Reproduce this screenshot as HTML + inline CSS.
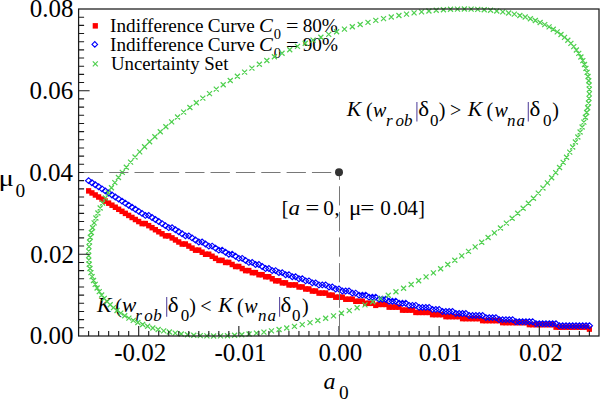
<!DOCTYPE html><html><head><meta charset="utf-8"><style>html,body{margin:0;padding:0;background:#fff;width:600px;height:400px;overflow:hidden}svg{display:block}text{font-family:"Liberation Serif",serif;fill:#000}</style></head><body>
<svg width="600" height="400" viewBox="0 0 600 400">
<text x="29.70" y="17.40" font-size="25">0.08</text>
<text x="29.49" y="99.15" font-size="25">0.06</text>
<text x="29.14" y="180.90" font-size="25">0.04</text>
<text x="30.13" y="262.65" font-size="25">0.02</text>
<text x="29.70" y="344.40" font-size="25">0.00</text>
<text x="114.19" y="360.60" font-size="25">-0.02</text>
<text x="214.40" y="360.60" font-size="25">-0.01</text>
<text x="318.43" y="360.60" font-size="25">0.00</text>
<text x="418.85" y="360.60" font-size="25">0.01</text>
<text x="518.94" y="360.60" font-size="25">0.02</text>
<text x="-1.15" y="186.30" font-size="24" transform="matrix(1.2000 0 0 1 -0.160 0)">μ</text>
<text x="15.51" y="197.30" font-size="19.4">0</text>
<text x="323.49" y="389.20" font-size="24" font-style="italic">a</text>
<text x="338.96" y="398.50" font-size="19.4">0</text>
<rect x="92.7" y="23.1" width="5.2" height="5.5" fill="#ff0000"/>
<path fill="none" stroke="#0000ff" stroke-width="1.1" d="M92 44.4L94.8 41.6L97.6 44.4L94.8 47.2Z"/>
<path fill="none" stroke="#50d050" stroke-width="1.2" d="M92.80 61.30L97.80 66.30M92.80 66.30L97.80 61.30"/>
<text x="110.11" y="31.60" font-size="19.2">Indifference</text>
<text x="207.81" y="31.60" font-size="19.2">Curve</text>
<text x="259.13" y="31.60" font-size="19.2" font-style="italic" transform="matrix(1.0800 0 0 1 -20.816 0)">C</text>
<text x="273.75" y="39.00" font-size="14.5">0</text>
<text x="286.24" y="31.60" font-size="19.2" transform="matrix(1.1500 0 0 1 -43.080 0)">=</text>
<text x="302.67" y="31.60" font-size="19.2">80%</text>
<text x="110.11" y="51.00" font-size="19.2">Indifference</text>
<text x="207.81" y="51.00" font-size="19.2">Curve</text>
<text x="259.13" y="51.00" font-size="19.2" font-style="italic" transform="matrix(1.0800 0 0 1 -20.816 0)">C</text>
<text x="273.75" y="58.40" font-size="14.5">0</text>
<text x="286.24" y="51.00" font-size="19.2" transform="matrix(1.1500 0 0 1 -43.080 0)">=</text>
<text x="302.78" y="51.00" font-size="19.2">90%</text>
<text x="110.90" y="70.20" font-size="19.2" transform="matrix(0.9795 0 0 1 2.280 0)">Uncertainty Set</text>
<text x="346.73" y="116.50" font-size="20" font-style="italic" transform="matrix(1.0800 0 0 1 -27.720 0)">K</text>
<text x="366.12" y="116.50" font-size="20">(</text>
<text x="373.02" y="116.50" font-size="20" font-style="italic">w</text>
<text x="386.01" y="125.80" font-size="17" font-style="italic">r</text>
<text x="395.49" y="125.80" font-size="17" font-style="italic">o</text>
<text x="404.07" y="125.80" font-size="17" font-style="italic">b</text>
<text x="418.25" y="116.50" font-size="20" transform="matrix(1.1500 0 0 1 -62.850 0)">δ</text>
<text x="429.95" y="125.80" font-size="17">0</text>
<text x="438.86" y="116.50" font-size="20">)</text>
<text x="449.98" y="116.50" font-size="20">&gt;</text>
<text x="467.73" y="116.50" font-size="20" font-style="italic" transform="matrix(1.0800 0 0 1 -37.400 0)">K</text>
<text x="486.52" y="116.50" font-size="20">(</text>
<text x="494.52" y="116.50" font-size="20" font-style="italic">w</text>
<text x="507.09" y="125.80" font-size="17" font-style="italic">n</text>
<text x="516.49" y="125.80" font-size="17" font-style="italic">a</text>
<text x="529.55" y="116.50" font-size="20" transform="matrix(1.1500 0 0 1 -79.545 0)">δ</text>
<text x="543.05" y="125.80" font-size="17">0</text>
<text x="552.36" y="116.50" font-size="20">)</text>
<path d="M416.9 102.0V121.5" stroke="#5a4aa0" stroke-width="1.1"/>
<path d="M528.3 102.0V121.5" stroke="#5a4aa0" stroke-width="1.1"/>
<text x="96.93" y="312.50" font-size="20" font-style="italic" transform="matrix(1.0800 0 0 1 -7.736 0)">K</text>
<text x="115.32" y="312.50" font-size="20">(</text>
<text x="122.02" y="312.50" font-size="20" font-style="italic" transform="matrix(1.0700 0 0 1 -8.575 0)">w</text>
<text x="135.31" y="321.20" font-size="17" font-style="italic">r</text>
<text x="144.19" y="321.20" font-size="17" font-style="italic">o</text>
<text x="153.37" y="321.20" font-size="17" font-style="italic">b</text>
<text x="167.95" y="312.50" font-size="20" transform="matrix(1.1500 0 0 1 -25.305 0)">δ</text>
<text x="180.65" y="321.20" font-size="17">0</text>
<text x="189.36" y="312.50" font-size="20">)</text>
<text x="200.30" y="312.50" font-size="20">&lt;</text>
<text x="218.23" y="312.50" font-size="20" font-style="italic" transform="matrix(1.0800 0 0 1 -17.440 0)">K</text>
<text x="237.12" y="312.50" font-size="20">(</text>
<text x="244.22" y="312.50" font-size="20" font-style="italic">w</text>
<text x="258.09" y="321.20" font-size="17" font-style="italic">n</text>
<text x="267.49" y="321.20" font-size="17" font-style="italic">a</text>
<text x="280.55" y="312.50" font-size="20" transform="matrix(1.1500 0 0 1 -42.195 0)">δ</text>
<text x="292.05" y="321.20" font-size="17">0</text>
<text x="302.06" y="312.50" font-size="20">)</text>
<path d="M166.7 297.0V316.8" stroke="#5a4aa0" stroke-width="1.1"/>
<path d="M279.6 297.0V316.8" stroke="#5a4aa0" stroke-width="1.1"/>
<text x="281.77" y="214.80" font-size="20">[</text>
<text x="288.60" y="214.80" font-size="20" font-style="italic" transform="matrix(1.1500 0 0 1 -43.380 0)">a</text>
<text x="305.80" y="214.80" font-size="20" transform="matrix(1.2200 0 0 1 -67.496 0)">=</text>
<text x="323.34" y="214.80" font-size="20" transform="matrix(1.0600 0 0 1 -19.446 0)">0</text>
<text x="334.44" y="214.80" font-size="20">,</text>
<text x="349.38" y="214.80" font-size="20" transform="matrix(1.1500 0 0 1 -52.650 0)">μ</text>
<text x="360.50" y="214.80" font-size="20" transform="matrix(1.2500 0 0 1 -90.375 0)">=</text>
<text x="380.24" y="214.80" font-size="20" transform="matrix(1.0600 0 0 1 -22.860 0)">0</text>
<text x="392.38" y="214.80" font-size="20">.</text>
<text x="397.54" y="214.80" font-size="20" transform="matrix(1.0600 0 0 1 -23.898 0)">0</text>
<text x="407.31" y="214.80" font-size="20" transform="matrix(1.0600 0 0 1 -24.462 0)">4</text>
<text x="418.28" y="214.80" font-size="20">]</text>
<g>
<g fill="#ff0000"><rect x="86.03" y="188.14" width="5.2" height="5.5"/><rect x="89.36" y="190.19" width="5.2" height="5.5"/><rect x="92.70" y="192.23" width="5.2" height="5.5"/><rect x="96.04" y="194.27" width="5.2" height="5.5"/><rect x="99.38" y="196.32" width="5.2" height="5.5"/><rect x="102.72" y="198.36" width="5.2" height="5.5"/><rect x="106.06" y="200.41" width="5.2" height="5.5"/><rect x="109.39" y="202.45" width="5.2" height="5.5"/><rect x="112.73" y="204.49" width="5.2" height="5.5"/><rect x="116.07" y="206.54" width="5.2" height="5.5"/><rect x="119.41" y="208.58" width="5.2" height="5.5"/><rect x="122.75" y="210.62" width="5.2" height="5.5"/><rect x="126.08" y="212.67" width="5.2" height="5.5"/><rect x="129.42" y="214.71" width="5.2" height="5.5"/><rect x="132.76" y="216.76" width="5.2" height="5.5"/><rect x="136.10" y="218.80" width="5.2" height="5.5"/><rect x="139.44" y="220.84" width="5.2" height="5.5"/><rect x="142.78" y="220.84" width="5.2" height="5.5"/><rect x="146.12" y="222.89" width="5.2" height="5.5"/><rect x="149.45" y="224.93" width="5.2" height="5.5"/><rect x="152.79" y="226.97" width="5.2" height="5.5"/><rect x="156.13" y="229.02" width="5.2" height="5.5"/><rect x="159.47" y="231.06" width="5.2" height="5.5"/><rect x="162.81" y="233.11" width="5.2" height="5.5"/><rect x="166.14" y="233.11" width="5.2" height="5.5"/><rect x="169.48" y="235.15" width="5.2" height="5.5"/><rect x="172.82" y="237.19" width="5.2" height="5.5"/><rect x="176.16" y="239.24" width="5.2" height="5.5"/><rect x="179.50" y="241.28" width="5.2" height="5.5"/><rect x="182.84" y="241.28" width="5.2" height="5.5"/><rect x="186.18" y="243.32" width="5.2" height="5.5"/><rect x="189.51" y="245.37" width="5.2" height="5.5"/><rect x="192.85" y="247.41" width="5.2" height="5.5"/><rect x="196.19" y="247.41" width="5.2" height="5.5"/><rect x="199.53" y="249.46" width="5.2" height="5.5"/><rect x="202.87" y="251.50" width="5.2" height="5.5"/><rect x="206.21" y="251.50" width="5.2" height="5.5"/><rect x="209.54" y="253.54" width="5.2" height="5.5"/><rect x="212.88" y="255.59" width="5.2" height="5.5"/><rect x="216.22" y="257.63" width="5.2" height="5.5"/><rect x="219.56" y="257.63" width="5.2" height="5.5"/><rect x="222.90" y="259.68" width="5.2" height="5.5"/><rect x="226.24" y="259.68" width="5.2" height="5.5"/><rect x="229.57" y="261.72" width="5.2" height="5.5"/><rect x="232.91" y="263.76" width="5.2" height="5.5"/><rect x="236.25" y="263.76" width="5.2" height="5.5"/><rect x="239.59" y="265.81" width="5.2" height="5.5"/><rect x="242.93" y="267.85" width="5.2" height="5.5"/><rect x="246.27" y="267.85" width="5.2" height="5.5"/><rect x="249.60" y="269.89" width="5.2" height="5.5"/><rect x="252.94" y="269.89" width="5.2" height="5.5"/><rect x="256.28" y="271.94" width="5.2" height="5.5"/><rect x="259.62" y="271.94" width="5.2" height="5.5"/><rect x="262.96" y="273.98" width="5.2" height="5.5"/><rect x="266.29" y="273.98" width="5.2" height="5.5"/><rect x="269.63" y="276.02" width="5.2" height="5.5"/><rect x="272.97" y="278.07" width="5.2" height="5.5"/><rect x="276.31" y="278.07" width="5.2" height="5.5"/><rect x="279.65" y="280.11" width="5.2" height="5.5"/><rect x="282.99" y="280.11" width="5.2" height="5.5"/><rect x="286.32" y="282.16" width="5.2" height="5.5"/><rect x="289.66" y="282.16" width="5.2" height="5.5"/><rect x="293.00" y="282.16" width="5.2" height="5.5"/><rect x="296.34" y="284.20" width="5.2" height="5.5"/><rect x="299.68" y="284.20" width="5.2" height="5.5"/><rect x="303.02" y="286.24" width="5.2" height="5.5"/><rect x="306.35" y="286.24" width="5.2" height="5.5"/><rect x="309.69" y="288.29" width="5.2" height="5.5"/><rect x="313.03" y="288.29" width="5.2" height="5.5"/><rect x="316.37" y="290.33" width="5.2" height="5.5"/><rect x="319.71" y="290.33" width="5.2" height="5.5"/><rect x="323.05" y="290.33" width="5.2" height="5.5"/><rect x="326.38" y="292.38" width="5.2" height="5.5"/><rect x="329.72" y="292.38" width="5.2" height="5.5"/><rect x="333.06" y="294.42" width="5.2" height="5.5"/><rect x="336.40" y="294.42" width="5.2" height="5.5"/><rect x="339.74" y="294.42" width="5.2" height="5.5"/><rect x="343.08" y="296.46" width="5.2" height="5.5"/><rect x="346.41" y="296.46" width="5.2" height="5.5"/><rect x="349.75" y="296.46" width="5.2" height="5.5"/><rect x="353.09" y="298.51" width="5.2" height="5.5"/><rect x="356.43" y="298.51" width="5.2" height="5.5"/><rect x="359.77" y="298.51" width="5.2" height="5.5"/><rect x="363.11" y="300.55" width="5.2" height="5.5"/><rect x="366.44" y="300.55" width="5.2" height="5.5"/><rect x="369.78" y="300.55" width="5.2" height="5.5"/><rect x="373.12" y="302.59" width="5.2" height="5.5"/><rect x="376.46" y="301.65" width="5.2" height="5.5"/><rect x="379.80" y="301.65" width="5.2" height="5.5"/><rect x="383.14" y="301.65" width="5.2" height="5.5"/><rect x="386.47" y="304.35" width="5.2" height="5.5"/><rect x="389.81" y="304.35" width="5.2" height="5.5"/><rect x="393.15" y="304.35" width="5.2" height="5.5"/><rect x="396.49" y="304.35" width="5.2" height="5.5"/><rect x="399.83" y="307.35" width="5.2" height="5.5"/><rect x="403.17" y="307.35" width="5.2" height="5.5"/><rect x="406.50" y="307.35" width="5.2" height="5.5"/><rect x="409.84" y="307.35" width="5.2" height="5.5"/><rect x="413.18" y="309.65" width="5.2" height="5.5"/><rect x="416.52" y="309.65" width="5.2" height="5.5"/><rect x="419.86" y="309.65" width="5.2" height="5.5"/><rect x="423.20" y="309.65" width="5.2" height="5.5"/><rect x="426.53" y="309.65" width="5.2" height="5.5"/><rect x="429.87" y="311.85" width="5.2" height="5.5"/><rect x="433.21" y="311.85" width="5.2" height="5.5"/><rect x="436.55" y="311.85" width="5.2" height="5.5"/><rect x="439.89" y="311.85" width="5.2" height="5.5"/><rect x="443.23" y="313.85" width="5.2" height="5.5"/><rect x="446.56" y="313.85" width="5.2" height="5.5"/><rect x="449.90" y="313.85" width="5.2" height="5.5"/><rect x="453.24" y="313.85" width="5.2" height="5.5"/><rect x="456.58" y="313.85" width="5.2" height="5.5"/><rect x="459.92" y="315.85" width="5.2" height="5.5"/><rect x="463.26" y="315.85" width="5.2" height="5.5"/><rect x="466.60" y="315.85" width="5.2" height="5.5"/><rect x="469.93" y="315.85" width="5.2" height="5.5"/><rect x="473.27" y="315.85" width="5.2" height="5.5"/><rect x="476.61" y="315.85" width="5.2" height="5.5"/><rect x="479.95" y="317.85" width="5.2" height="5.5"/><rect x="483.29" y="317.85" width="5.2" height="5.5"/><rect x="486.62" y="317.85" width="5.2" height="5.5"/><rect x="489.96" y="317.85" width="5.2" height="5.5"/><rect x="493.30" y="317.85" width="5.2" height="5.5"/><rect x="496.64" y="317.85" width="5.2" height="5.5"/><rect x="499.98" y="319.85" width="5.2" height="5.5"/><rect x="503.32" y="319.85" width="5.2" height="5.5"/><rect x="506.65" y="319.85" width="5.2" height="5.5"/><rect x="509.99" y="319.85" width="5.2" height="5.5"/><rect x="513.33" y="319.85" width="5.2" height="5.5"/><rect x="516.67" y="319.85" width="5.2" height="5.5"/><rect x="520.01" y="319.85" width="5.2" height="5.5"/><rect x="523.35" y="319.85" width="5.2" height="5.5"/><rect x="526.69" y="321.85" width="5.2" height="5.5"/><rect x="530.02" y="321.85" width="5.2" height="5.5"/><rect x="533.36" y="321.85" width="5.2" height="5.5"/><rect x="536.70" y="321.85" width="5.2" height="5.5"/><rect x="540.04" y="321.85" width="5.2" height="5.5"/><rect x="543.38" y="321.85" width="5.2" height="5.5"/><rect x="546.72" y="321.85" width="5.2" height="5.5"/><rect x="550.05" y="321.85" width="5.2" height="5.5"/><rect x="553.39" y="324.35" width="5.2" height="5.5"/><rect x="556.73" y="324.35" width="5.2" height="5.5"/><rect x="560.07" y="324.35" width="5.2" height="5.5"/><rect x="563.41" y="324.35" width="5.2" height="5.5"/><rect x="566.75" y="324.35" width="5.2" height="5.5"/><rect x="570.08" y="324.35" width="5.2" height="5.5"/><rect x="573.42" y="324.35" width="5.2" height="5.5"/><rect x="576.76" y="324.35" width="5.2" height="5.5"/><rect x="580.10" y="324.35" width="5.2" height="5.5"/><rect x="583.44" y="324.35" width="5.2" height="5.5"/><rect x="586.77" y="326.35" width="5.2" height="5.5"/></g>
<g fill="none" stroke="#0000ff" stroke-width="1.15"><path d="M85.53 180.68L88.62 177.78L91.72 180.68L88.62 183.58Z"/><path d="M88.86 182.72L91.96 179.82L95.06 182.72L91.96 185.62Z"/><path d="M92.20 184.76L95.30 181.86L98.40 184.76L95.30 187.66Z"/><path d="M95.54 186.81L98.64 183.91L101.74 186.81L98.64 189.71Z"/><path d="M98.88 188.85L101.98 185.95L105.08 188.85L101.98 191.75Z"/><path d="M102.22 190.89L105.32 187.99L108.42 190.89L105.32 193.79Z"/><path d="M105.56 192.94L108.66 190.04L111.75 192.94L108.66 195.84Z"/><path d="M108.89 194.98L111.99 192.08L115.09 194.98L111.99 197.88Z"/><path d="M112.23 197.02L115.33 194.12L118.43 197.02L115.33 199.92Z"/><path d="M115.57 199.07L118.67 196.17L121.77 199.07L118.67 201.97Z"/><path d="M118.91 201.11L122.01 198.21L125.11 201.11L122.01 204.01Z"/><path d="M122.25 203.16L125.35 200.26L128.45 203.16L125.35 206.06Z"/><path d="M125.58 205.20L128.68 202.30L131.78 205.20L128.68 208.10Z"/><path d="M128.92 207.24L132.02 204.34L135.12 207.24L132.02 210.14Z"/><path d="M132.26 209.29L135.36 206.39L138.46 209.29L135.36 212.19Z"/><path d="M135.60 211.33L138.70 208.43L141.80 211.33L138.70 214.23Z"/><path d="M138.94 213.38L142.04 210.47L145.14 213.38L142.04 216.28Z"/><path d="M142.28 215.42L145.38 212.52L148.48 215.42L145.38 218.32Z"/><path d="M145.62 215.42L148.72 212.52L151.81 215.42L148.72 218.32Z"/><path d="M148.95 217.46L152.05 214.56L155.15 217.46L152.05 220.36Z"/><path d="M152.29 219.51L155.39 216.61L158.49 219.51L155.39 222.41Z"/><path d="M155.63 221.55L158.73 218.65L161.83 221.55L158.73 224.45Z"/><path d="M158.97 223.59L162.07 220.69L165.17 223.59L162.07 226.49Z"/><path d="M162.31 225.64L165.41 222.74L168.51 225.64L165.41 228.54Z"/><path d="M165.64 227.68L168.74 224.78L171.84 227.68L168.74 230.58Z"/><path d="M168.98 227.68L172.08 224.78L175.18 227.68L172.08 230.58Z"/><path d="M172.32 229.72L175.42 226.82L178.52 229.72L175.42 232.62Z"/><path d="M175.66 231.77L178.76 228.87L181.86 231.77L178.76 234.67Z"/><path d="M179.00 233.81L182.10 230.91L185.20 233.81L182.10 236.71Z"/><path d="M182.34 235.86L185.44 232.96L188.54 235.86L185.44 238.76Z"/><path d="M185.68 235.86L188.78 232.96L191.88 235.86L188.78 238.76Z"/><path d="M189.01 237.90L192.11 235.00L195.21 237.90L192.11 240.80Z"/><path d="M192.35 239.94L195.45 237.04L198.55 239.94L195.45 242.84Z"/><path d="M195.69 241.99L198.79 239.09L201.89 241.99L198.79 244.89Z"/><path d="M199.03 241.99L202.13 239.09L205.23 241.99L202.13 244.89Z"/><path d="M202.37 244.03L205.47 241.13L208.57 244.03L205.47 246.93Z"/><path d="M205.71 246.07L208.81 243.17L211.91 246.07L208.81 248.97Z"/><path d="M209.04 246.07L212.14 243.17L215.24 246.07L212.14 248.97Z"/><path d="M212.38 248.12L215.48 245.22L218.58 248.12L215.48 251.02Z"/><path d="M215.72 250.16L218.82 247.26L221.92 250.16L218.82 253.06Z"/><path d="M219.06 250.16L222.16 247.26L225.26 250.16L222.16 253.06Z"/><path d="M222.40 252.21L225.50 249.31L228.60 252.21L225.50 255.11Z"/><path d="M225.74 254.25L228.84 251.35L231.94 254.25L228.84 257.15Z"/><path d="M229.07 254.25L232.17 251.35L235.27 254.25L232.17 257.15Z"/><path d="M232.41 256.29L235.51 253.39L238.61 256.29L235.51 259.19Z"/><path d="M235.75 258.34L238.85 255.44L241.95 258.34L238.85 261.24Z"/><path d="M239.09 258.34L242.19 255.44L245.29 258.34L242.19 261.24Z"/><path d="M242.43 260.38L245.53 257.48L248.63 260.38L245.53 263.28Z"/><path d="M245.77 262.43L248.87 259.53L251.97 262.43L248.87 265.32Z"/><path d="M249.10 262.43L252.20 259.53L255.30 262.43L252.20 265.32Z"/><path d="M252.44 264.47L255.54 261.57L258.64 264.47L255.54 267.37Z"/><path d="M255.78 264.47L258.88 261.57L261.98 264.47L258.88 267.37Z"/><path d="M259.12 266.51L262.22 263.61L265.32 266.51L262.22 269.41Z"/><path d="M262.46 268.56L265.56 265.66L268.66 268.56L265.56 271.46Z"/><path d="M265.79 268.56L268.89 265.66L272.00 268.56L268.89 271.46Z"/><path d="M269.13 270.60L272.23 267.70L275.33 270.60L272.23 273.50Z"/><path d="M272.47 270.60L275.57 267.70L278.67 270.60L275.57 273.50Z"/><path d="M275.81 272.64L278.91 269.74L282.01 272.64L278.91 275.54Z"/><path d="M279.15 272.64L282.25 269.74L285.35 272.64L282.25 275.54Z"/><path d="M282.49 274.69L285.59 271.79L288.69 274.69L285.59 277.59Z"/><path d="M285.82 274.69L288.93 271.79L292.03 274.69L288.93 277.59Z"/><path d="M289.16 276.73L292.26 273.83L295.36 276.73L292.26 279.63Z"/><path d="M292.50 276.73L295.60 273.83L298.70 276.73L295.60 279.63Z"/><path d="M295.84 278.77L298.94 275.88L302.04 278.77L298.94 281.67Z"/><path d="M299.18 278.77L302.28 275.88L305.38 278.77L302.28 281.67Z"/><path d="M302.52 280.82L305.62 277.92L308.72 280.82L305.62 283.72Z"/><path d="M305.85 280.82L308.95 277.92L312.06 280.82L308.95 283.72Z"/><path d="M309.19 282.86L312.29 279.96L315.39 282.86L312.29 285.76Z"/><path d="M312.53 282.86L315.63 279.96L318.73 282.86L315.63 285.76Z"/><path d="M315.87 284.91L318.97 282.01L322.07 284.91L318.97 287.81Z"/><path d="M319.21 284.91L322.31 282.01L325.41 284.91L322.31 287.81Z"/><path d="M322.55 284.91L325.65 282.01L328.75 284.91L325.65 287.81Z"/><path d="M325.88 286.95L328.99 284.05L332.09 286.95L328.99 289.85Z"/><path d="M329.22 286.95L332.32 284.05L335.42 286.95L332.32 289.85Z"/><path d="M332.56 288.99L335.66 286.09L338.76 288.99L335.66 291.89Z"/><path d="M335.90 288.99L339.00 286.09L342.10 288.99L339.00 291.89Z"/><path d="M339.24 291.04L342.34 288.14L345.44 291.04L342.34 293.94Z"/><path d="M342.58 291.04L345.68 288.14L348.78 291.04L345.68 293.94Z"/><path d="M345.91 291.04L349.01 288.14L352.12 291.04L349.01 293.94Z"/><path d="M349.25 293.08L352.35 290.18L355.45 293.08L352.35 295.98Z"/><path d="M352.59 293.08L355.69 290.18L358.79 293.08L355.69 295.98Z"/><path d="M355.93 295.12L359.03 292.23L362.13 295.12L359.03 298.02Z"/><path d="M359.27 295.12L362.37 292.23L365.47 295.12L362.37 298.02Z"/><path d="M362.61 295.12L365.71 292.23L368.81 295.12L365.71 298.02Z"/><path d="M365.94 297.17L369.05 294.27L372.15 297.17L369.05 300.07Z"/><path d="M369.28 297.17L372.38 294.27L375.48 297.17L372.38 300.07Z"/><path d="M372.62 297.17L375.72 294.27L378.82 297.17L375.72 300.07Z"/><path d="M375.96 299.21L379.06 296.31L382.16 299.21L379.06 302.11Z"/><path d="M379.30 299.21L382.40 296.31L385.50 299.21L382.40 302.11Z"/><path d="M382.64 299.21L385.74 296.31L388.84 299.21L385.74 302.11Z"/><path d="M385.97 301.26L389.07 298.36L392.18 301.26L389.07 304.16Z"/><path d="M389.31 301.26L392.41 298.36L395.51 301.26L392.41 304.16Z"/><path d="M392.65 301.26L395.75 298.36L398.85 301.26L395.75 304.16Z"/><path d="M395.99 303.30L399.09 300.40L402.19 303.30L399.09 306.20Z"/><path d="M399.33 303.30L402.43 300.40L405.53 303.30L402.43 306.20Z"/><path d="M402.67 303.30L405.77 300.40L408.87 303.30L405.77 306.20Z"/><path d="M406.00 305.34L409.11 302.44L412.21 305.34L409.11 308.24Z"/><path d="M409.34 305.34L412.44 302.44L415.54 305.34L412.44 308.24Z"/><path d="M412.68 305.34L415.78 302.44L418.88 305.34L415.78 308.24Z"/><path d="M416.02 307.39L419.12 304.49L422.22 307.39L419.12 310.29Z"/><path d="M419.36 307.39L422.46 304.49L425.56 307.39L422.46 310.29Z"/><path d="M422.70 307.39L425.80 304.49L428.90 307.39L425.80 310.29Z"/><path d="M426.03 307.39L429.13 304.49L432.24 307.39L429.13 310.29Z"/><path d="M429.37 309.43L432.47 306.53L435.57 309.43L432.47 312.33Z"/><path d="M432.71 309.43L435.81 306.53L438.91 309.43L435.81 312.33Z"/><path d="M436.05 309.43L439.15 306.53L442.25 309.43L439.15 312.33Z"/><path d="M439.39 311.48L442.49 308.58L445.59 311.48L442.49 314.38Z"/><path d="M442.73 311.48L445.83 308.58L448.93 311.48L445.83 314.38Z"/><path d="M446.06 311.48L449.17 308.58L452.27 311.48L449.17 314.38Z"/><path d="M449.40 311.48L452.50 308.58L455.60 311.48L452.50 314.38Z"/><path d="M452.74 313.52L455.84 310.62L458.94 313.52L455.84 316.42Z"/><path d="M456.08 313.52L459.18 310.62L462.28 313.52L459.18 316.42Z"/><path d="M459.42 313.52L462.52 310.62L465.62 313.52L462.52 316.42Z"/><path d="M462.76 313.52L465.86 310.62L468.96 313.52L465.86 316.42Z"/><path d="M466.10 315.56L469.20 312.66L472.30 315.56L469.20 318.46Z"/><path d="M469.43 315.56L472.53 312.66L475.63 315.56L472.53 318.46Z"/><path d="M472.77 315.56L475.87 312.66L478.97 315.56L475.87 318.46Z"/><path d="M476.11 315.56L479.21 312.66L482.31 315.56L479.21 318.46Z"/><path d="M479.45 315.56L482.55 312.66L485.65 315.56L482.55 318.46Z"/><path d="M482.79 317.61L485.89 314.71L488.99 317.61L485.89 320.51Z"/><path d="M486.12 317.61L489.23 314.71L492.33 317.61L489.23 320.51Z"/><path d="M489.46 317.61L492.56 314.71L495.66 317.61L492.56 320.51Z"/><path d="M492.80 317.61L495.90 314.71L499.00 317.61L495.90 320.51Z"/><path d="M496.14 319.65L499.24 316.75L502.34 319.65L499.24 322.55Z"/><path d="M499.48 319.65L502.58 316.75L505.68 319.65L502.58 322.55Z"/><path d="M502.82 319.65L505.92 316.75L509.02 319.65L505.92 322.55Z"/><path d="M506.15 319.65L509.25 316.75L512.36 319.65L509.25 322.55Z"/><path d="M509.49 319.65L512.59 316.75L515.69 319.65L512.59 322.55Z"/><path d="M512.83 321.69L515.93 318.79L519.03 321.69L515.93 324.59Z"/><path d="M516.17 321.69L519.27 318.79L522.37 321.69L519.27 324.59Z"/><path d="M519.51 321.69L522.61 318.79L525.71 321.69L522.61 324.59Z"/><path d="M522.85 321.69L525.95 318.79L529.05 321.69L525.95 324.59Z"/><path d="M526.19 321.69L529.29 318.79L532.39 321.69L529.29 324.59Z"/><path d="M529.52 321.69L532.62 318.79L535.72 321.69L532.62 324.59Z"/><path d="M532.86 323.74L535.96 320.84L539.06 323.74L535.96 326.64Z"/><path d="M536.20 323.74L539.30 320.84L542.40 323.74L539.30 326.64Z"/><path d="M539.54 323.74L542.64 320.84L545.74 323.74L542.64 326.64Z"/><path d="M542.88 323.74L545.98 320.84L549.08 323.74L545.98 326.64Z"/><path d="M546.22 323.74L549.32 320.84L552.42 323.74L549.32 326.64Z"/><path d="M549.55 323.74L552.65 320.84L555.75 323.74L552.65 326.64Z"/><path d="M552.89 323.74L555.99 320.84L559.09 323.74L555.99 326.64Z"/><path d="M556.23 325.78L559.33 322.88L562.43 325.78L559.33 328.68Z"/><path d="M559.57 325.78L562.67 322.88L565.77 325.78L562.67 328.68Z"/><path d="M562.91 325.78L566.01 322.88L569.11 325.78L566.01 328.68Z"/><path d="M566.25 325.78L569.35 322.88L572.45 325.78L569.35 328.68Z"/><path d="M569.58 325.78L572.68 322.88L575.78 325.78L572.68 328.68Z"/><path d="M572.92 325.78L576.02 322.88L579.12 325.78L576.02 328.68Z"/><path d="M576.26 325.78L579.36 322.88L582.46 325.78L579.36 328.68Z"/><path d="M579.60 325.78L582.70 322.88L585.80 325.78L582.70 328.68Z"/><path d="M582.94 325.78L586.04 322.88L589.14 325.78L586.04 328.68Z"/><path d="M586.27 325.78L589.38 322.88L592.48 325.78L589.38 328.68Z"/></g>
<path fill="none" stroke="#50d050" stroke-width="1.25" d="M586.86 86.89L591.86 91.89M586.86 91.89L591.86 86.89M586.66 82.51L591.66 87.51M586.66 87.51L591.66 82.51M586.22 78.22L591.22 83.22M586.22 83.22L591.22 78.22M585.53 74.01L590.53 79.01M585.53 79.01L590.53 74.01M584.59 69.90L589.59 74.90M584.59 74.90L589.59 69.90M583.41 65.89L588.41 70.89M583.41 70.89L588.41 65.89M581.98 61.98L586.98 66.98M581.98 66.98L586.98 61.98M580.31 58.18L585.31 63.18M580.31 63.18L585.31 58.18M578.40 54.49L583.40 59.49M578.40 59.49L583.40 54.49M576.25 50.91L581.25 55.91M576.25 55.91L581.25 50.91M573.87 47.45L578.87 52.45M573.87 52.45L578.87 47.45M571.25 44.11L576.25 49.11M571.25 49.11L576.25 44.11M568.40 40.90L573.40 45.90M568.40 45.90L573.40 40.90M565.32 37.81L570.32 42.81M565.32 42.81L570.32 37.81M562.01 34.85L567.01 39.85M562.01 39.85L567.01 34.85M558.48 32.03L563.48 37.03M558.48 37.03L563.48 32.03M554.74 29.34L559.74 34.34M554.74 34.34L559.74 29.34M550.77 26.79L555.77 31.79M550.77 31.79L555.77 26.79M546.60 24.39L551.60 29.39M546.60 29.39L551.60 24.39M542.22 22.12L547.22 27.12M542.22 27.12L547.22 22.12M537.64 20.00L542.64 25.00M537.64 25.00L542.64 20.00M532.85 18.03L537.85 23.03M532.85 23.03L537.85 18.03M527.88 16.21L532.88 21.21M527.88 21.21L532.88 16.21M522.71 14.55L527.71 19.55M522.71 19.55L527.71 14.55M517.36 13.03L522.36 18.03M517.36 18.03L522.36 13.03M511.83 11.67L516.83 16.67M511.83 16.67L516.83 11.67M506.13 10.47L511.13 15.47M506.13 15.47L511.13 10.47M500.27 9.42L505.27 14.42M500.27 14.42L505.27 9.42M494.24 8.54L499.24 13.54M494.24 13.54L499.24 8.54M488.05 7.81L493.05 12.81M488.05 12.81L493.05 7.81M481.72 7.24L486.72 12.24M481.72 12.24L486.72 7.24M475.24 6.83L480.24 11.83M475.24 11.83L480.24 6.83M468.62 6.59L473.62 11.59M468.62 11.59L473.62 6.59M461.88 6.50L466.88 11.50M461.88 11.50L466.88 6.50M455.01 6.58L460.01 11.58M455.01 11.58L460.01 6.58M448.02 6.81L453.02 11.81M448.02 11.81L453.02 6.81M440.92 7.21L445.92 12.21M440.92 12.21L445.92 7.21M433.73 7.77L438.73 12.77M433.73 12.77L438.73 7.77M426.43 8.49L431.43 13.49M426.43 13.49L431.43 8.49M419.05 9.37L424.05 14.37M419.05 14.37L424.05 9.37M411.58 10.41L416.58 15.41M411.58 15.41L416.58 10.41M404.04 11.60L409.04 16.60M404.04 16.60L409.04 11.60M396.43 12.95L401.43 17.95M396.43 17.95L401.43 12.95M388.77 14.46L393.77 19.46M388.77 19.46L393.77 14.46M381.05 16.12L386.05 21.12M381.05 21.12L386.05 16.12M373.29 17.93L378.29 22.93M373.29 22.93L378.29 17.93M365.49 19.89L370.49 24.89M365.49 24.89L370.49 19.89M357.67 22.00L362.67 27.00M357.67 27.00L362.67 22.00M349.82 24.26L354.82 29.26M349.82 29.26L354.82 24.26M341.96 26.66L346.96 31.66M341.96 31.66L346.96 26.66M334.10 29.20L339.10 34.20M334.10 34.20L339.10 29.20M326.23 31.88L331.23 36.88M326.23 36.88L331.23 31.88M318.38 34.69L323.38 39.69M318.38 39.69L323.38 34.69M310.55 37.64L315.55 42.64M310.55 42.64L315.55 37.64M302.74 40.72L307.74 45.72M302.74 45.72L307.74 40.72M294.96 43.93L299.96 48.93M294.96 48.93L299.96 43.93M287.23 47.26L292.23 52.26M287.23 52.26L292.23 47.26M279.54 50.72L284.54 55.72M279.54 55.72L284.54 50.72M271.91 54.29L276.91 59.29M271.91 59.29L276.91 54.29M264.34 57.97L269.34 62.97M264.34 62.97L269.34 57.97M256.85 61.77L261.85 66.77M256.85 66.77L261.85 61.77M249.43 65.67L254.43 70.67M249.43 70.67L254.43 65.67M242.10 69.68L247.10 74.68M242.10 74.68L247.10 69.68M234.86 73.78L239.86 78.78M234.86 78.78L239.86 73.78M227.73 77.98L232.73 82.98M227.73 82.98L232.73 77.98M220.70 82.27L225.70 87.27M220.70 87.27L225.70 82.27M213.78 86.65L218.78 91.65M213.78 91.65L218.78 86.65M206.99 91.11L211.99 96.11M206.99 96.11L211.99 91.11M200.32 95.65L205.32 100.65M200.32 100.65L205.32 95.65M193.79 100.26L198.79 105.26M193.79 105.26L198.79 100.26M187.40 104.94L192.40 109.94M187.40 109.94L192.40 104.94M181.15 109.68L186.15 114.68M181.15 114.68L186.15 109.68M175.06 114.48L180.06 119.48M175.06 119.48L180.06 114.48M169.13 119.34L174.13 124.34M169.13 124.34L174.13 119.34M163.36 124.25L168.36 129.25M163.36 129.25L168.36 124.25M157.77 129.20L162.77 134.20M157.77 134.20L162.77 129.20M152.35 134.19L157.35 139.19M152.35 139.19L157.35 134.19M147.11 139.22L152.11 144.22M147.11 144.22L152.11 139.22M142.06 144.28L147.06 149.28M142.06 149.28L147.06 144.28M137.20 149.37L142.20 154.37M137.20 154.37L142.20 149.37M132.54 154.47L137.54 159.47M132.54 159.47L137.54 154.47M128.08 159.59L133.08 164.59M128.08 164.59L133.08 159.59M123.82 164.72L128.82 169.72M123.82 169.72L128.82 164.72M119.78 169.86L124.78 174.86M119.78 174.86L124.78 169.86M115.95 174.99L120.95 179.99M115.95 179.99L120.95 174.99M112.33 180.12L117.33 185.12M112.33 185.12L117.33 180.12M108.94 185.24L113.94 190.24M108.94 190.24L113.94 185.24M105.77 190.35L110.77 195.35M105.77 195.35L110.77 190.35M102.83 195.44L107.83 200.44M102.83 200.44L107.83 195.44M100.12 200.50L105.12 205.50M100.12 205.50L105.12 200.50M97.65 205.53L102.65 210.53M97.65 210.53L102.65 205.53M95.41 210.52L100.41 215.52M95.41 215.52L100.41 210.52M93.40 215.48L98.40 220.48M93.40 220.48L98.40 215.48M91.64 220.39L96.64 225.39M91.64 225.39L96.64 220.39M90.12 225.25L95.12 230.25M90.12 230.25L95.12 225.25M88.84 230.06L93.84 235.06M88.84 235.06L93.84 230.06M87.81 234.80L92.81 239.80M87.81 239.80L92.81 234.80M87.02 239.49L92.02 244.49M87.02 244.49L92.02 239.49M86.48 244.10L91.48 249.10M86.48 249.10L91.48 244.10M86.18 248.64L91.18 253.64M86.18 253.64L91.18 248.64M86.14 253.11L91.14 258.11M86.14 258.11L91.14 253.11M86.34 257.49L91.34 262.49M86.34 262.49L91.34 257.49M86.78 261.78L91.78 266.78M86.78 266.78L91.78 261.78M87.47 265.99L92.47 270.99M87.47 270.99L92.47 265.99M88.41 270.10L93.41 275.10M88.41 275.10L93.41 270.10M89.59 274.11L94.59 279.11M89.59 279.11L94.59 274.11M91.02 278.02L96.02 283.02M91.02 283.02L96.02 278.02M92.69 281.82L97.69 286.82M92.69 286.82L97.69 281.82M94.60 285.51L99.60 290.51M94.60 290.51L99.60 285.51M96.75 289.09L101.75 294.09M96.75 294.09L101.75 289.09M99.13 292.55L104.13 297.55M99.13 297.55L104.13 292.55M101.75 295.89L106.75 300.89M101.75 300.89L106.75 295.89M104.60 299.10L109.60 304.10M104.60 304.10L109.60 299.10M107.68 302.19L112.68 307.19M107.68 307.19L112.68 302.19M110.99 305.15L115.99 310.15M110.99 310.15L115.99 305.15M114.52 307.97L119.52 312.97M114.52 312.97L119.52 307.97M118.26 310.66L123.26 315.66M118.26 315.66L123.26 310.66M122.23 313.21L127.23 318.21M122.23 318.21L127.23 313.21M126.40 315.61L131.40 320.61M126.40 320.61L131.40 315.61M130.78 317.88L135.78 322.88M130.78 322.88L135.78 317.88M135.36 320.00L140.36 325.00M135.36 325.00L140.36 320.00M140.15 321.97L145.15 326.97M140.15 326.97L145.15 321.97M145.12 323.79L150.12 328.79M145.12 328.79L150.12 323.79M150.29 325.45L155.29 330.45M150.29 330.45L155.29 325.45M155.64 326.97L160.64 331.97M155.64 331.97L160.64 326.97M161.17 328.33L166.17 333.33M161.17 333.33L166.17 328.33M166.87 329.53L171.87 334.53M166.87 334.53L171.87 329.53M172.73 330.58L177.73 335.58M172.73 335.58L177.73 330.58M178.76 331.46L183.76 336.46M178.76 336.46L183.76 331.46M184.95 332.19L189.95 337.19M184.95 337.19L189.95 332.19M191.28 332.76L196.28 337.76M191.28 337.76L196.28 332.76M197.76 333.17L202.76 338.17M197.76 338.17L202.76 333.17M204.38 333.41L209.38 338.41M204.38 338.41L209.38 333.41M211.12 333.50L216.12 338.50M211.12 338.50L216.12 333.50M217.99 333.42L222.99 338.42M217.99 338.42L222.99 333.42M224.98 333.19L229.98 338.19M224.98 338.19L229.98 333.19M232.08 332.79L237.08 337.79M232.08 337.79L237.08 332.79M239.27 332.23L244.27 337.23M239.27 337.23L244.27 332.23M246.57 331.51L251.57 336.51M246.57 336.51L251.57 331.51M253.95 330.63L258.95 335.63M253.95 335.63L258.95 330.63M261.42 329.59L266.42 334.59M261.42 334.59L266.42 329.59M268.96 328.40L273.96 333.40M268.96 333.40L273.96 328.40M276.57 327.05L281.57 332.05M276.57 332.05L281.57 327.05M284.23 325.54L289.23 330.54M284.23 330.54L289.23 325.54M291.95 323.88L296.95 328.88M291.95 328.88L296.95 323.88M299.71 322.07L304.71 327.07M299.71 327.07L304.71 322.07M307.51 320.11L312.51 325.11M307.51 325.11L312.51 320.11M315.33 318.00L320.33 323.00M315.33 323.00L320.33 318.00M323.18 315.74L328.18 320.74M323.18 320.74L328.18 315.74M331.04 313.34L336.04 318.34M331.04 318.34L336.04 313.34M338.90 310.80L343.90 315.80M338.90 315.80L343.90 310.80M346.77 308.12L351.77 313.12M346.77 313.12L351.77 308.12M354.62 305.31L359.62 310.31M354.62 310.31L359.62 305.31M362.45 302.36L367.45 307.36M362.45 307.36L367.45 302.36M370.26 299.28L375.26 304.28M370.26 304.28L375.26 299.28M378.04 296.07L383.04 301.07M378.04 301.07L383.04 296.07M385.77 292.74L390.77 297.74M385.77 297.74L390.77 292.74M393.46 289.28L398.46 294.28M393.46 294.28L398.46 289.28M401.09 285.71L406.09 290.71M401.09 290.71L406.09 285.71M408.66 282.03L413.66 287.03M408.66 287.03L413.66 282.03M416.15 278.23L421.15 283.23M416.15 283.23L421.15 278.23M423.57 274.33L428.57 279.33M423.57 279.33L428.57 274.33M430.90 270.32L435.90 275.32M430.90 275.32L435.90 270.32M438.14 266.22L443.14 271.22M438.14 271.22L443.14 266.22M445.27 262.02L450.27 267.02M445.27 267.02L450.27 262.02M452.30 257.73L457.30 262.73M452.30 262.73L457.30 257.73M459.22 253.35L464.22 258.35M459.22 258.35L464.22 253.35M466.01 248.89L471.01 253.89M466.01 253.89L471.01 248.89M472.68 244.35L477.68 249.35M472.68 249.35L477.68 244.35M479.21 239.74L484.21 244.74M479.21 244.74L484.21 239.74M485.60 235.06L490.60 240.06M485.60 240.06L490.60 235.06M491.85 230.32L496.85 235.32M491.85 235.32L496.85 230.32M497.94 225.52L502.94 230.52M497.94 230.52L502.94 225.52M503.87 220.66L508.87 225.66M503.87 225.66L508.87 220.66M509.64 215.75L514.64 220.75M509.64 220.75L514.64 215.75M515.23 210.80L520.23 215.80M515.23 215.80L520.23 210.80M520.65 205.81L525.65 210.81M520.65 210.81L525.65 205.81M525.89 200.78L530.89 205.78M525.89 205.78L530.89 200.78M530.94 195.72L535.94 200.72M530.94 200.72L535.94 195.72M535.80 190.63L540.80 195.63M535.80 195.63L540.80 190.63M540.46 185.53L545.46 190.53M540.46 190.53L545.46 185.53M544.92 180.41L549.92 185.41M544.92 185.41L549.92 180.41M549.18 175.28L554.18 180.28M549.18 180.28L554.18 175.28M553.22 170.14L558.22 175.14M553.22 175.14L558.22 170.14M557.05 165.01L562.05 170.01M557.05 170.01L562.05 165.01M560.67 159.88L565.67 164.88M560.67 164.88L565.67 159.88M564.06 154.76L569.06 159.76M564.06 159.76L569.06 154.76M567.23 149.65L572.23 154.65M567.23 154.65L572.23 149.65M570.17 144.56L575.17 149.56M570.17 149.56L575.17 144.56M572.88 139.50L577.88 144.50M572.88 144.50L577.88 139.50M575.35 134.47L580.35 139.47M575.35 139.47L580.35 134.47M577.59 129.48L582.59 134.48M577.59 134.48L582.59 129.48M579.60 124.52L584.60 129.52M579.60 129.52L584.60 124.52M581.36 119.61L586.36 124.61M581.36 124.61L586.36 119.61M582.88 114.75L587.88 119.75M582.88 119.75L587.88 114.75M584.16 109.94L589.16 114.94M584.16 114.94L589.16 109.94M585.19 105.20L590.19 110.20M585.19 110.20L590.19 105.20M585.98 100.51L590.98 105.51M585.98 105.51L590.98 100.51M586.52 95.90L591.52 100.90M586.52 100.90L591.52 95.90M586.82 91.36L591.82 96.36M586.82 96.36L591.82 91.36"/>
</g>
<rect x="78.6" y="9.0" width="520.40" height="327.00" fill="none" stroke="#1a1a1a" stroke-width="1.25"/>
<path stroke="#1a1a1a" stroke-width="1.1" fill="none" d="M88.62 336.0V331.0M98.64 336.0V331.0M108.66 336.0V331.0M118.67 336.0V331.0M128.69 336.0V331.0M138.70 336.0V326.0M148.72 336.0V331.0M158.73 336.0V331.0M168.75 336.0V331.0M178.76 336.0V331.0M188.78 336.0V331.0M198.79 336.0V331.0M208.81 336.0V331.0M218.82 336.0V331.0M228.83 336.0V331.0M238.85 336.0V326.0M248.87 336.0V331.0M258.88 336.0V331.0M268.89 336.0V331.0M278.91 336.0V331.0M288.93 336.0V331.0M298.94 336.0V331.0M308.95 336.0V331.0M318.97 336.0V331.0M328.99 336.0V331.0M339.00 336.0V326.0M349.01 336.0V331.0M359.03 336.0V331.0M369.05 336.0V331.0M379.06 336.0V331.0M389.07 336.0V331.0M399.09 336.0V331.0M409.11 336.0V331.0M419.12 336.0V331.0M429.13 336.0V331.0M439.15 336.0V326.0M449.17 336.0V331.0M459.18 336.0V331.0M469.19 336.0V331.0M479.21 336.0V331.0M489.23 336.0V331.0M499.24 336.0V331.0M509.25 336.0V331.0M519.27 336.0V331.0M529.28 336.0V331.0M539.30 336.0V326.0M549.32 336.0V331.0M559.33 336.0V331.0M569.35 336.0V331.0M579.36 336.0V331.0M589.38 336.0V331.0M78.6 327.82H84.1M78.6 319.65H84.1M78.6 311.48H84.1M78.6 303.30H84.1M78.6 295.12H84.1M78.6 286.95H84.1M78.6 278.77H84.1M78.6 270.60H84.1M78.6 262.43H84.1M78.6 254.25H89.6M78.6 246.07H84.1M78.6 237.90H84.1M78.6 229.72H84.1M78.6 221.55H84.1M78.6 213.38H84.1M78.6 205.20H84.1M78.6 197.03H84.1M78.6 188.85H84.1M78.6 180.67H84.1M78.6 172.50H89.6M78.6 164.32H84.1M78.6 156.15H84.1M78.6 147.97H84.1M78.6 139.80H84.1M78.6 131.62H84.1M78.6 123.45H84.1M78.6 115.28H84.1M78.6 107.10H84.1M78.6 98.92H84.1M78.6 90.75H89.6M78.6 82.57H84.1M78.6 74.40H84.1M78.6 66.23H84.1M78.6 58.05H84.1M78.6 49.88H84.1M78.6 41.70H84.1M78.6 33.52H84.1M78.6 25.35H84.1M78.6 17.18H84.1"/>
<path fill="none" stroke="#787878" stroke-width="1" d="M83.80 172.5H103.10M109.15 172.5H128.45M134.50 172.5H153.80M159.85 172.5H179.15M185.20 172.5H204.50M210.55 172.5H229.85M235.90 172.5H255.20M261.25 172.5H280.55M286.60 172.5H305.90M311.95 172.5H331.25M339.5 176.00V179.85M339.5 186.25V205.45M339.5 211.85V231.05M339.5 237.45V256.65M339.5 263.05V282.25M339.5 288.65V307.85M339.5 314.25V333.45"/>
<circle cx="339" cy="172.2" r="4" fill="#333"/>
</svg></body></html>
